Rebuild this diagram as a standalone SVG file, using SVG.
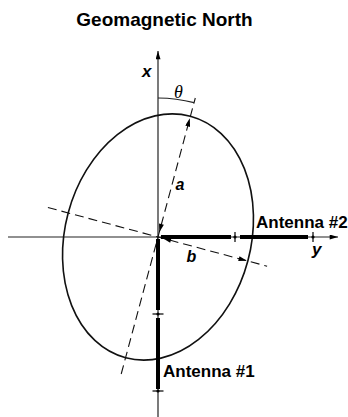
<svg xmlns="http://www.w3.org/2000/svg" width="348" height="417" viewBox="0 0 348 417">
<style>
.axis{stroke:#222;stroke-width:1.2;fill:none}
.dash{stroke:#111;stroke-width:1.1;stroke-dasharray:9 5;fill:none}
.ell{stroke:#111;stroke-width:1.6;fill:none}
.bar{stroke:#000;stroke-width:4;fill:none}
.tick{stroke:#000;stroke-width:1.2;fill:none}
.lbl{font-family:"Liberation Sans",Arial,sans-serif;font-weight:bold;fill:#000}
.var{font-family:"Liberation Sans",Arial,sans-serif;font-weight:bold;font-style:italic;fill:#000}
.greek{font-family:"Liberation Serif","Times New Roman",serif;font-style:italic;fill:#000}
</style>
<defs>
<marker id="ah" viewBox="0 0 10 6" refX="10" refY="3" markerWidth="10" markerHeight="5" markerUnits="userSpaceOnUse" orient="auto-start-reverse">
<path d="M0,0 L10,3 L0,6 z" fill="#000"/>
</marker>
</defs>
<rect width="348" height="417" fill="#fff"/>
<text class="lbl" x="164.5" y="26" font-size="19" text-anchor="middle">Geomagnetic North</text>

<g id="connectors">
<line class="axis" x1="158" y1="417" x2="158" y2="51" marker-end="url(#ah)"/>
<line class="axis" x1="8" y1="237" x2="338" y2="237" marker-end="url(#ah)"/>
<line class="dash" x1="121.2" y1="374" x2="195.3" y2="98"/>
<line class="dash" x1="47.9" y1="207.5" x2="267.1" y2="266.2"/>
<path d="M159.3,232.2 L189.8,118.2" fill="none" stroke="none" marker-start="url(#ah)" marker-end="url(#ah)"/>
<path d="M162.8,238.3 L246.9,260.8" fill="none" stroke="none" marker-start="url(#ah)" marker-end="url(#ah)"/>
<path class="axis" d="M158,98 A139,139 0 0 1 194,102.7"/>
</g>

<g id="ellipse">
<ellipse class="ell" cx="158" cy="237" rx="93" ry="125" transform="rotate(15 158 237)"/>
</g>

<g id="antenna2">
<line class="bar" x1="161" y1="237" x2="231" y2="237"/>
<line class="bar" x1="240" y1="237" x2="308" y2="237"/>
<line class="tick" x1="235" y1="232" x2="235" y2="242"/>
<circle cx="235" cy="237" r="1.6"/>
<line class="tick" x1="313" y1="232" x2="313" y2="242"/>
<circle cx="313" cy="237" r="1.6"/>
<text class="lbl" x="256" y="228" font-size="17">Antenna #2</text>
</g>

<g id="antenna1">
<line class="bar" x1="158" y1="239" x2="158" y2="310"/>
<line class="bar" x1="158" y1="318" x2="158" y2="389"/>
<line class="tick" x1="152.5" y1="314" x2="163.5" y2="314"/>
<circle cx="158" cy="314" r="1.6"/>
<line class="tick" x1="152.5" y1="391" x2="163.5" y2="391"/>
<circle cx="158" cy="391" r="1.6"/>
<text class="lbl" x="163" y="377" font-size="17">Antenna #1</text>
</g>

<g id="labels">
<text class="var" x="142" y="77" font-size="17">x</text>
<text class="var" x="312" y="255" font-size="17">y</text>
<text class="var" x="175.5" y="190" font-size="16">a</text>
<text class="var" x="186.5" y="262" font-size="16">b</text>
<text class="greek" x="174" y="98" font-size="18">θ</text>
</g>
</svg>
